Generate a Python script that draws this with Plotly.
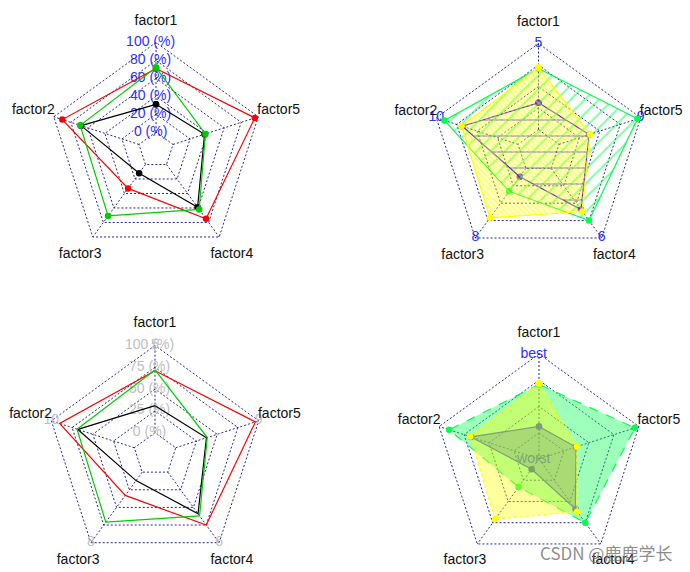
import numpy as np
import plotly.graph_objects as go

# data: each series as % of its factor's range (min..max)
factors = ["factor1", "factor2", "factor3", "factor4", "factor5"]
factor_max = [5, 10, 8, 6, 9]
series_a = [31, 68, 12, 59, 37]
series_b = [71, 90, 33, 75, 96]
series_c = [72, 69, 71, 62, 38]
center_labels = ["worst", "", "", "", "best"]

W, H = 690, 572
FONT = "Liberation Sans, Arial, sans-serif"
NAVY = "rgba(0,0,128,0.85)"
BLUE = "#3030ff"
GREY = "#bebebe"
TOPO = ["#4C00FF", "#00FF4D", "#FFFF00"]
R_COLS = ["#000000", "#FF0000", "#00CD00"]

ang = np.deg2rad(90 + 72 * np.arange(5))
ca, sa = np.cos(ang), np.sin(ang)

# panel placement (pixels): centre, radius, quadrant box
panels = [
    dict(cx=156, cy=150, R=107.5, box=(0, 345, 0, 286)),
    dict(cx=538.5, cy=151, R=107.5, box=(345, 690, 0, 286)),
    dict(cx=155, cy=454.5, R=109, box=(0, 345, 286, 572)),
    dict(cx=539, cy=459, R=105, box=(345, 690, 286, 572)),
]


def ax(k):
    s = "" if k == 0 else str(k + 1)
    return dict(xaxis="x" + s, yaxis="y" + s)


def closed(a):
    a = list(a)
    return a + [a[0]]


def grid(k, seg, cz):
    gap = 0 if cz else 1
    xs, ys = [], []
    for j in range(seg + 1):
        r = (j + gap) / (seg + gap)
        if r == 0:
            continue
        xs += closed(r * ca) + [None]
        ys += closed(r * sa) + [None]
    r0 = gap / (seg + gap)
    for i in range(5):
        xs += [r0 * ca[i], ca[i], None]
        ys += [r0 * sa[i], sa[i], None]
    return go.Scatter(x=xs, y=ys, mode="lines", hoverinfo="skip",
                      line=dict(color=NAVY, width=1, dash="2px,2px"), **ax(k))


def text(k, x, y, t, color, size=14):
    return go.Scatter(x=list(x), y=list(y), text=list(t), mode="text", cliponaxis=False,
                      textposition="middle center", hoverinfo="skip",
                      textfont=dict(family=FONT, size=size, color=color), **ax(k))


def series(k, vals, seg, cz, color, dash="solid", points=True, **kw):
    gap = 0 if cz else 1
    r = (gap + np.array(vals) / 100 * seg) / (seg + gap)
    return go.Scatter(x=closed(r * ca), y=closed(r * sa),
                      mode="lines+markers" if points else "lines", cliponaxis=False,
                      line=dict(color=color, width=1.2, dash=dash),
                      marker=dict(color=color, size=6.5), hoverinfo="skip", **kw, **ax(k))


data = [series_a, series_b, series_c]
traces = []

# panel 1: axistype 1, seg 5
traces.append(grid(0, 5, False))
traces.append(text(0, [-0.05] * 6, [(j + 1) / 6 for j in range(6)],
                   [f"{j * 20} (%)" for j in range(6)], BLUE))
for vals, col in zip(data, R_COLS):
    traces.append(series(0, vals, 5, False, col))

# panel 2: axistype 2, hatched fills
traces.append(grid(1, 4, False))
traces.append(text(1, ca, sa, [str(m) for m in factor_max], BLUE))
patterns = [("-", 16, 0.1), ("/", 10, 0.2), ("\\", 4, 0.7)]
for vals, col, (shp, sz, sol) in zip(data, TOPO, patterns):
    traces.append(series(1, vals, 4, False, col, fill="toself", fillcolor="rgba(0,0,0,0)",
                         fillpattern=dict(shape=shp, fgcolor=col, bgcolor="rgba(0,0,0,0)",
                                          size=sz, solidity=sol)))

# panel 3: axistype 3, grey labels, no points
traces.append(grid(2, 4, False))
traces.append(text(2, [-0.05] * 5, [(j + 1) / 5 for j in range(5)],
                   [f"{j * 25} (%)" for j in range(5)], GREY))
traces.append(text(2, ca, sa, [str(m) for m in factor_max], GREY))
for vals, col in zip(data, R_COLS):
    traces.append(series(2, vals, 4, False, col, points=False))

# panel 4: centerzero, best/worst, transparent fills
traces.append(grid(3, 4, True))
traces.append(text(3, [-0.05] * 5, [j / 4 for j in range(5)], center_labels, BLUE))
fills = ["rgba(76,0,255,0.38)", "rgba(0,255,77,0.38)", "rgba(255,255,0,0.38)"]
for vals, col, fc, d in zip(data, TOPO, fills, ["solid", "dash", "dot"]):
    traces.append(series(3, vals, 4, True, col, dash=d, fill="toself", fillcolor=fc))

# factor labels
for k in range(4):
    traces.append(text(k, 1.2 * ca, 1.2 * sa, factors, "#111111"))

fig = go.Figure(traces)
layout = dict(width=W, height=H, margin=dict(l=0, r=0, t=0, b=0),
              paper_bgcolor="white", plot_bgcolor="white", showlegend=False)
for k, p in enumerate(panels):
    x0, x1, y0, y1 = p["box"]
    cx, cy, R = p["cx"], p["cy"], p["R"]
    s = "" if k == 0 else str(k + 1)
    layout["xaxis" + s] = dict(domain=[x0 / W, x1 / W], range=[(x0 - cx) / R, (x1 - cx) / R],
                               visible=False, fixedrange=True, anchor="y" + s)
    layout["yaxis" + s] = dict(domain=[1 - y1 / H, 1 - y0 / H], range=[(cy - y1) / R, (cy - y0) / R],
                               visible=False, fixedrange=True, anchor="x" + s)
fig.update_layout(**layout)
fig.add_annotation(text="CSDN @鹿鹿学长", x=606 / W, y=1 - 552 / H, xref="paper", yref="paper",
                   xanchor="center", yanchor="middle", showarrow=False,
                   font=dict(family="Noto Sans CJK SC, " + FONT, size=17,
                             color="rgba(120,120,120,0.85)"))
fig.write_html("out.html", config={"displayModeBar": False},
               post_script="document.body.style.margin='0px';")
